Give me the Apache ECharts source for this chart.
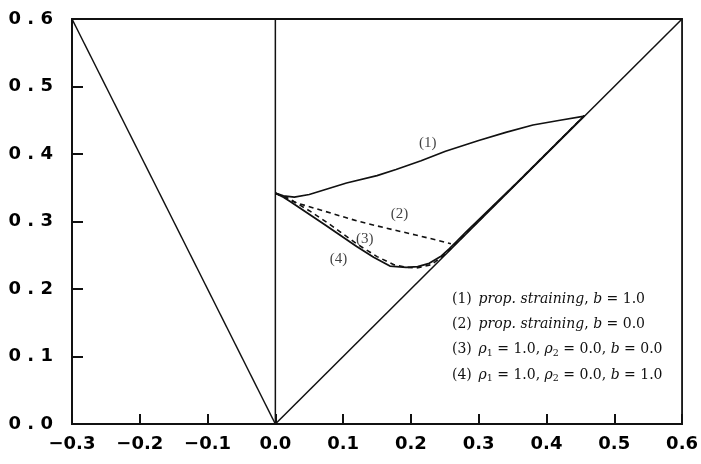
<!DOCTYPE html>
<html>
<head>
<meta charset="utf-8">
<script src="https://cdn.jsdelivr.net/npm/echarts@6/dist/echarts.min.js"></script>
<style>
  html, body { margin: 0; padding: 0; background: #fff; }
  #chart { width: 701px; height: 464px; }
</style>
</head>
<body>
<div id="chart"></div>
<script>
// Axis ranges and tick spacing
const xRange = [-0.3, 0.6];
const yRange = [0.0, 0.6];
const tickStep = 0.1;

// Boundary lines of the admissible region
const leftBound = [[-0.3, 0.6], [0.0, 0.0]];
const rightBound = [[0.0, 0.0], [0.6, 0.6]];
const zeroLine = [[0.0, 0.0], [0.0, 0.6]];

// (1) prop. straining, b = 1.0
const curve1 = [
  [0.000, 0.342], [0.012, 0.338], [0.028, 0.336], [0.050, 0.340],
  [0.105, 0.357], [0.150, 0.368], [0.178, 0.377], [0.215, 0.390],
  [0.251, 0.404], [0.300, 0.420], [0.340, 0.432], [0.380, 0.443],
  [0.420, 0.450], [0.456, 0.456]
];
// (2) prop. straining, b = 0.0
const curve2 = [
  [0.000, 0.342], [0.010, 0.337], [0.033, 0.327], [0.070, 0.316],
  [0.120, 0.301], [0.160, 0.291], [0.207, 0.280], [0.240, 0.272],
  [0.259, 0.267]
];
// (3) rho1 = 1.0, rho2 = 0.0, b = 0.0
const curve3 = [
  [0.000, 0.342], [0.020, 0.334], [0.050, 0.316], [0.080, 0.296],
  [0.120, 0.267], [0.150, 0.248], [0.175, 0.236], [0.195, 0.232],
  [0.208, 0.231], [0.230, 0.236], [0.251, 0.252], [0.265, 0.266],
  [0.280, 0.281], [0.320, 0.321], [0.360, 0.361], [0.400, 0.401],
  [0.456, 0.457]
];
// (4) rho1 = 1.0, rho2 = 0.0, b = 1.0
const curve4 = [
  [0.000, 0.342], [0.012, 0.336], [0.023, 0.329], [0.072, 0.296],
  [0.120, 0.263], [0.145, 0.247], [0.169, 0.234], [0.193, 0.232],
  [0.210, 0.233], [0.227, 0.238], [0.245, 0.249], [0.256, 0.259],
  [0.268, 0.271], [0.280, 0.283], [0.320, 0.322], [0.360, 0.361],
  [0.400, 0.401], [0.456, 0.457]
];

// Curve tags placed next to each curve
const curveTags = [
  { name: '(1)', value: [0.225, 0.416] },
  { name: '(2)', value: [0.183, 0.311] },
  { name: '(3)', value: [0.132, 0.274] },
  { name: '(4)', value: [0.093, 0.245] }
];

const ink = '#111';
const serif = '"DejaVu Serif", "Liberation Serif", serif';

function solid(data, w) {
  return {
    type: 'line', data, symbol: 'none', silent: true,
    lineStyle: { color: ink, width: w || 1.5, type: 'solid' }
  };
}
function dashed(data) {
  return {
    type: 'line', data, symbol: 'none', silent: true,
    lineStyle: { color: ink, width: 1.6, type: [5, 4] }
  };
}

const legendRich = {
  n: { fontFamily: serif, fontSize: 14, color: ink },
  i: { fontFamily: serif, fontSize: 14, fontStyle: 'italic', color: ink },
  s: { fontFamily: serif, fontSize: 9.5, fontStyle: 'normal', color: ink, verticalAlign: 'bottom', padding: [7, 0, 0, 0] },
  t: { fontFamily: serif, fontSize: 14, color: ink }
};
const legendLines = [
  '{n|(1)}  {i|prop. straining}{t|, }{i|b}{t| = 1.0}',
  '{n|(2)}  {i|prop. straining}{t|, }{i|b}{t| = 0.0}',
  '{n|(3)}  {i|ρ}{s|1}{t| = 1.0, }{i|ρ}{s|2}{t| = 0.0, }{i|b}{t| = 0.0}',
  '{n|(4)}  {i|ρ}{s|1}{t| = 1.0, }{i|ρ}{s|2}{t| = 0.0, }{i|b}{t| = 1.0}'
];

const chart = echarts.init(document.getElementById('chart'), null, { renderer: 'canvas' });
chart.setOption({
  animation: false,
  backgroundColor: '#fff',
  grid: {
    left: 72, right: 12, top: 19, bottom: 40,
    show: true, borderColor: ink, borderWidth: 1.8, backgroundColor: 'transparent'
  },
  xAxis: {
    type: 'value', min: xRange[0], max: xRange[1], interval: tickStep,
    axisLine: { show: true, onZero: false, lineStyle: { color: ink, width: 1.8 } },
    axisTick: { show: true, inside: true, length: 10, lineStyle: { color: ink, width: 2 } },
    splitLine: { show: false },
    axisLabel: {
      color: '#000', fontFamily: '"DejaVu Sans", sans-serif', fontWeight: 'bold', fontSize: 18,
      margin: 11,
      formatter: v => v.toFixed(1).replace('-', '−')
    }
  },
  yAxis: {
    type: 'value', min: yRange[0], max: yRange[1], interval: tickStep,
    axisLine: { show: true, onZero: false, lineStyle: { color: ink, width: 1.8 } },
    axisTick: { show: true, inside: true, length: 11, lineStyle: { color: ink, width: 2 } },
    splitLine: { show: false },
    axisLabel: {
      color: '#000', fontFamily: '"DejaVu Sans", sans-serif', fontWeight: 'bold', fontSize: 18,
      margin: 19,
      formatter: v => v.toFixed(1).split('').join(' ')
    }
  },
  series: [
    solid(leftBound),
    solid(rightBound),
    solid(zeroLine),
    solid(curve1, 1.7),
    dashed(curve2),
    dashed(curve3),
    solid(curve4, 1.8),
    {
      type: 'scatter', data: curveTags, symbolSize: 0, silent: true,
      label: {
        show: true, position: 'inside', formatter: p => p.name,
        fontFamily: '"Liberation Serif", serif', fontSize: 15, color: ink
      }
    }
  ],
  graphic: legendLines.map((txt, k) => ({
    type: 'text', left: 452, top: 292 + k * 25.3, silent: true,
    style: { text: txt, rich: legendRich, fill: ink }
  }))
});
</script>
</body>
</html>
